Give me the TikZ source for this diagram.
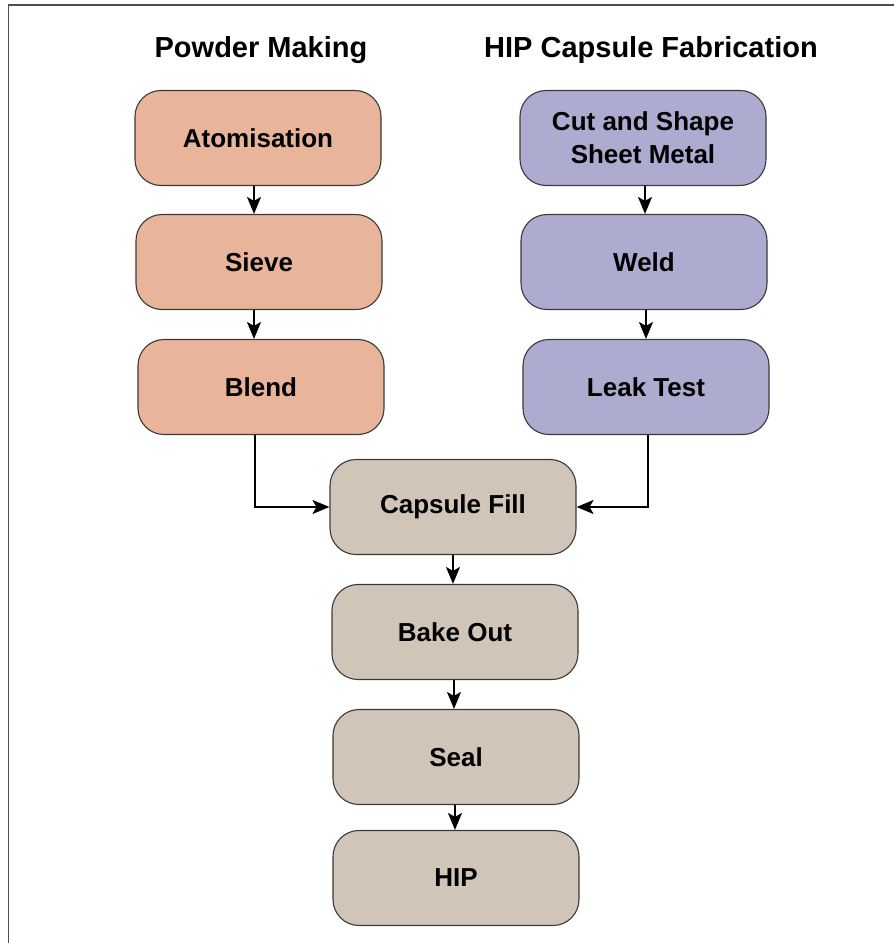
\documentclass[tikz,border=0pt]{standalone}
\usepackage{fontspec}
\setmainfont{Liberation Sans}
\usetikzlibrary{arrows.meta}
\definecolor{powder}{HTML}{E8B59B}
\definecolor{capsule}{HTML}{ADACD0}
\definecolor{common}{HTML}{D0C5B8}
\definecolor{edge}{HTML}{3A3A3A}
\tikzset{
  stepbox/.style={draw=edge, line width=1.1pt, rounded corners=26pt,
    minimum width=246pt, minimum height=95pt, inner sep=0pt, align=center,
    font=\fontsize{26}{33}\selectfont\bfseries},
  title/.style={font=\fontsize{29}{34}\selectfont\bfseries, inner sep=0pt},
  flow/.style={line width=2pt, -{Stealth[length=17pt,width=14pt,inset=4pt]}}
}
\begin{document}
\begin{tikzpicture}[x=1pt,y=-1pt]
\useasboundingbox (0,0) rectangle (894,943);
\draw[color=edge!90, line width=1.6pt] (8.5,960) -- (8.5,5) -- (910,5);
\node[title] (t1) at (261,50) {Powder Making};
\node[title] (t2) at (651,50) {HIP Capsule Fabrication};
\node[stepbox, fill=powder] (atom) at (258,138) {Atomisation};
\node[stepbox, fill=powder] (sieve) at (259,262) {Sieve};
\node[stepbox, fill=powder] (blend) at (261,387) {Blend};
\node[stepbox, fill=capsule] (cut) at (643,138) {Cut and Shape\\Sheet Metal};
\node[stepbox, fill=capsule] (weld) at (644,262) {Weld};
\node[stepbox, fill=capsule] (leak) at (646,387) {Leak Test};
\node[stepbox, fill=common] (fill) at (453,507) {Capsule Fill};
\node[stepbox, fill=common] (bake) at (455,632) {Bake Out};
\node[stepbox, fill=common] (seal) at (456,757) {Seal};
\node[stepbox, fill=common] (hip) at (456,878) {HIP};
\draw[flow] (atom.south -| 254,0) -- (sieve.north -| 254,0);
\draw[flow] (sieve.south -| 254,0) -- (blend.north -| 254,0);
\draw[flow] (cut.south -| 645,0) -- (weld.north -| 645,0);
\draw[flow] (weld.south -| 646,0) -- (leak.north -| 646,0);
\draw[flow] (blend.south -| 255,0) |- (fill.west);
\draw[flow] (leak.south -| 648,0) |- (fill.east);
\draw[flow] (fill.south -| 453,0) -- (bake.north -| 453,0);
\draw[flow] (bake.south -| 454,0) -- (seal.north -| 454,0);
\draw[flow] (seal.south -| 455,0) -- (hip.north -| 455,0);
\end{tikzpicture}
\end{document}
